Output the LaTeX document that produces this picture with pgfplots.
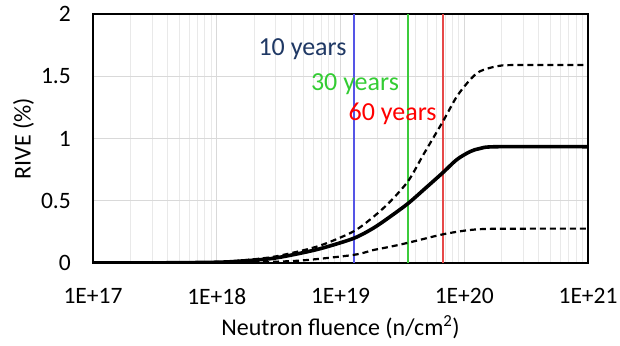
\documentclass[border=0pt]{standalone}
\usepackage{pgfplots}
\pgfplotsset{compat=1.18}
\usepackage{fontspec}
\setmainfont{Carlito}

\definecolor{gridmaj}{HTML}{D9D9D9}
\definecolor{gridmin}{HTML}{E9E9E9}
\definecolor{lineblue}{HTML}{5555E6}
\definecolor{linegreen}{HTML}{3CCB3C}
\definecolor{linered}{HTML}{E64848}
\definecolor{txtblue}{HTML}{1F3864}
\definecolor{txtgreen}{HTML}{33CC33}
\definecolor{txtred}{HTML}{FF0000}

\begin{document}
\begin{tikzpicture}
\begin{axis}[
  scale only axis,
  width=495pt, height=249pt,
  xmode=log,
  xmin=1e17, xmax=1e21,
  ymin=0, ymax=2,
  xtick={1e17,1e18,1e19,1e20,1e21},
  xticklabels={1E+17,1E+18,1E+19,1E+20,1E+21},
  minor xtick={2e17,3e17,4e17,5e17,6e17,7e17,8e17,9e17,
               2e18,3e18,4e18,5e18,6e18,7e18,8e18,9e18,
               2e19,3e19,4e19,5e19,6e19,7e19,8e19,9e19,
               2e20,3e20,4e20,5e20,6e20,7e20,8e20,9e20},
  ytick={0,0.5,1,1.5,2},
  yticklabels={0,0.5,1,1.5,2},
  major tick length=0pt, minor tick length=0pt,
  xmajorgrids, xminorgrids, ymajorgrids,
  major grid style={gridmaj, line width=1pt},
  minor grid style={gridmin, line width=0.9pt},
  axis line style={black, line width=1.4pt},
  tick label style={font=\fontsize{23.5}{27}\selectfont},
  xticklabel style={anchor=north, inner sep=0pt, yshift=-25pt},
  yticklabel style={anchor=east, inner sep=0pt, xshift=-22pt},
  xlabel={Neutron fluence (n/cm\textsuperscript{2})},
  ylabel={RIVE (\%)},
  label style={font=\fontsize{24}{28}\selectfont},
  xlabel style={at={(rel axis cs:0.5,-0.293)}, anchor=base, inner sep=0pt},
  ylabel style={at={(rel axis cs:-0.1404,0.5)}, anchor=center, inner sep=0pt},
  clip=true,
]
% service-life fluence markers
\addplot[lineblue, line width=2pt] coordinates {(1.29e19,0) (1.29e19,2)};
\addplot[linegreen, line width=2pt] coordinates {(3.53e19,0) (3.53e19,2)};
\addplot[linered, line width=2pt] coordinates {(6.7e19,0) (6.7e19,2)};

% upper bound
\addplot[black, line width=2.2pt, dash pattern=on 6pt off 4pt, smooth, tension=0.5] coordinates {
  (1e17,0) (3.16e17,0.001) (1e18,0.008) (1.585e18,0.02) (2.88e18,0.05)
  (5.37e18,0.11) (7.76e18,0.16) (1.29e19,0.257) (1.84e19,0.37) (2.5e19,0.49)
  (3.53e19,0.66) (4.67e19,0.87) (6.7e19,1.135) (8.69e19,1.336) (1.11e20,1.47)
  (1.34e20,1.54) (1.83e20,1.58) (2.51e20,1.59) (1e21,1.59)};
% lower bound
\addplot[black, line width=2.2pt, dash pattern=on 6pt off 4pt, smooth, tension=0.5] coordinates {
  (1e17,0) (1e18,0.002) (2.88e18,0.01) (5.37e18,0.024) (1.29e19,0.066)
  (1.84e19,0.104) (2.5e19,0.13) (3.53e19,0.163) (6.7e19,0.23) (1.11e20,0.265)
  (1.83e20,0.275) (1e21,0.276)};
% mean
\addplot[black, line width=3.6pt, smooth, tension=0.5] coordinates {
  (1e17,0) (3.16e17,0.001) (1e18,0.006) (1.585e18,0.016) (2.88e18,0.038)
  (5.37e18,0.09) (7.76e18,0.13) (1.29e19,0.2) (1.84e19,0.28) (2.5e19,0.37)
  (3.53e19,0.48) (4.67e19,0.586) (6.7e19,0.725) (8.69e19,0.83) (1.11e20,0.894)
  (1.34e20,0.92) (1.83e20,0.934) (1e21,0.934)};

\node[anchor=base west, inner sep=0pt, txtblue, font=\fontsize{26}{30}\selectfont]
  at (rel axis cs:0.334,0.835) {10 years};
\node[anchor=base west, inner sep=0pt, txtgreen, font=\fontsize{26}{30}\selectfont]
  at (rel axis cs:0.440,0.692) {30 years};
\node[anchor=base west, inner sep=0pt, txtred, font=\fontsize{26}{30}\selectfont]
  at (rel axis cs:0.516,0.5715) {60 years};
\end{axis}
\pgfresetboundingbox
\path (-93pt,-82pt) rectangle (527pt,263pt);
\end{tikzpicture}
\end{document}
